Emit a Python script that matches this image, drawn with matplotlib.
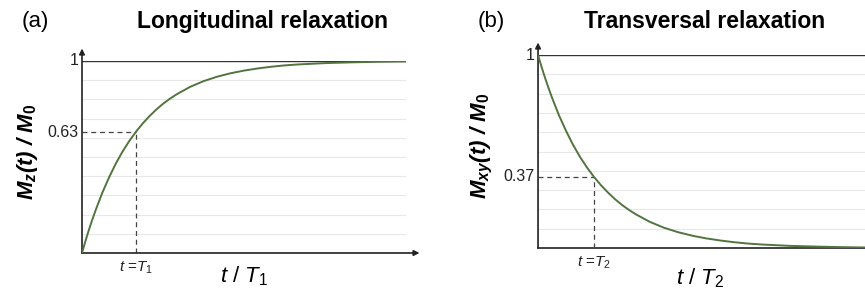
import matplotlib.pyplot as plt

plt.rcParams['font.family'] = ['Liberation Sans', 'DejaVu Sans']
plt.rcParams['mathtext.fontset'] = 'custom'
plt.rcParams['mathtext.it'] = 'Liberation Sans:italic'
plt.rcParams['mathtext.rm'] = 'Liberation Sans'
plt.rcParams['mathtext.bfit'] = 'Liberation Sans:italic:bold'
plt.rcParams['mathtext.bf'] = 'Liberation Sans:bold'

# values (t in units of T1 / T2)
t = [0, 0.0625, 0.125, 0.1875, 0.25, 0.375, 0.5, 0.625, 0.75, 0.875, 1, 1.125, 1.25, 1.375,
     1.5, 1.625, 1.75, 2, 2.25, 2.5, 2.75, 3, 3.25, 3.5, 3.75, 4, 4.5, 5, 5.5, 6]
mz = [0, 0.061, 0.118, 0.171, 0.221, 0.313, 0.393, 0.465, 0.528, 0.583, 0.632, 0.675, 0.713,
      0.747, 0.777, 0.803, 0.826, 0.865, 0.895, 0.918, 0.936, 0.95, 0.961, 0.97, 0.977, 0.982,
      0.989, 0.993, 0.996, 0.998]
mxy = [1, 0.939, 0.882, 0.829, 0.779, 0.687, 0.607, 0.535, 0.472, 0.417, 0.368, 0.325, 0.287,
       0.253, 0.223, 0.197, 0.174, 0.135, 0.105, 0.082, 0.064, 0.05, 0.039, 0.03, 0.023, 0.018,
       0.011, 0.007, 0.004, 0.002]

mark_t = 1
mark_a = 0.63
mark_b = 0.37

curve_col = '#52743f'
grid_col = '#e8e8e8'


def draw_panel(ax, y, mark, tick_lbl, mark_lbl, ylab, xlab, ylab_pos, xlab_pos, arrow_x=True):
    ax.set_xlim(0, 6)
    ax.set_ylim(0, 1)
    for s in ax.spines.values():
        s.set_visible(False)
    ax.set_xticks([])
    ax.set_yticks([])
    for g in [0.1, 0.2, 0.3, 0.4, 0.5, 0.6, 0.7, 0.8, 0.9]:
        ax.axhline(g, color=grid_col, lw=0.8, zorder=0)
    ax.axhline(1, color='#333333', lw=1.0, zorder=1)
    # axes with arrows
    ax.annotate('', xy=(0, 1.065), xytext=(0, 0), annotation_clip=False,
                arrowprops=dict(arrowstyle='-|>', color='#222222', lw=1.2,
                                mutation_scale=8, shrinkA=0, shrinkB=0))
    if arrow_x:
        ax.annotate('', xy=(6.25, 0), xytext=(0, 0), annotation_clip=False,
                    arrowprops=dict(arrowstyle='-|>', color='#222222', lw=1.2,
                                    mutation_scale=8, shrinkA=0, shrinkB=0))
    else:
        ax.plot([0, 6.5], [0, 0], color='#222222', lw=1.2, clip_on=False)
    ax.plot(t, y, color=curve_col, lw=1.4, zorder=3)
    ax.plot([0, mark_t], [mark, mark], ls=(0, (4, 3)), color='#444444', lw=0.9, zorder=2)
    ax.plot([mark_t, mark_t], [0, mark], ls=(0, (4, 3)), color='#444444', lw=0.9, zorder=2)
    ax.text(-0.06, 1, '1', ha='right', va='center', fontsize=11.5, color='#222222')
    ax.text(-0.06, mark, tick_lbl, ha='right', va='center', fontsize=11.5, color='#222222')
    ax.text(mark_t, -0.035, mark_lbl, ha='center', va='top', fontsize=11, color='#222222')
    ax.set_ylabel(ylab, fontsize=16)
    ax.yaxis.set_label_coords(*ylab_pos)
    ax.set_xlabel(xlab, fontsize=16)
    ax.xaxis.set_label_coords(*xlab_pos)


fig = plt.figure(figsize=(8.65, 2.91), dpi=100)
ax1 = fig.add_axes([0.0948, 0.1306, 0.3746, 0.6598])
ax2 = fig.add_axes([0.622, 0.1478, 0.3884, 0.663])

draw_panel(ax1, mz, mark_a, '0.63', r'$t$ =$T_1$', r'$\mathbfit{M}_{\mathbfit{z}}\mathbfit{(t)\ /\ M}_{\mathbf{0}}$',
           r'$t\ /\ T_1$', (-0.13, 0.53), (0.5, -0.06))
draw_panel(ax2, mxy, mark_b, '0.37', r'$t$ =$T_2$', r'$\mathbfit{M}_{\mathbfit{xy}}\mathbfit{(t)\ /\ M}_{\mathbf{0}}$',
           r'$t\ /\ T_2$', (-0.128, 0.53), (0.482, -0.095), arrow_x=False)

fig.text(0.025, 0.925, '(a)', fontsize=16, va='center', ha='left')
fig.text(0.303, 0.925, 'Longitudinal relaxation', fontsize=16.5, fontweight='bold', va='center', ha='center')
fig.text(0.552, 0.925, '(b)', fontsize=16, va='center', ha='left')
fig.text(0.814, 0.925, 'Transversal relaxation', fontsize=16.5, fontweight='bold', va='center', ha='center')

fig.savefig('out.png', dpi=100)
